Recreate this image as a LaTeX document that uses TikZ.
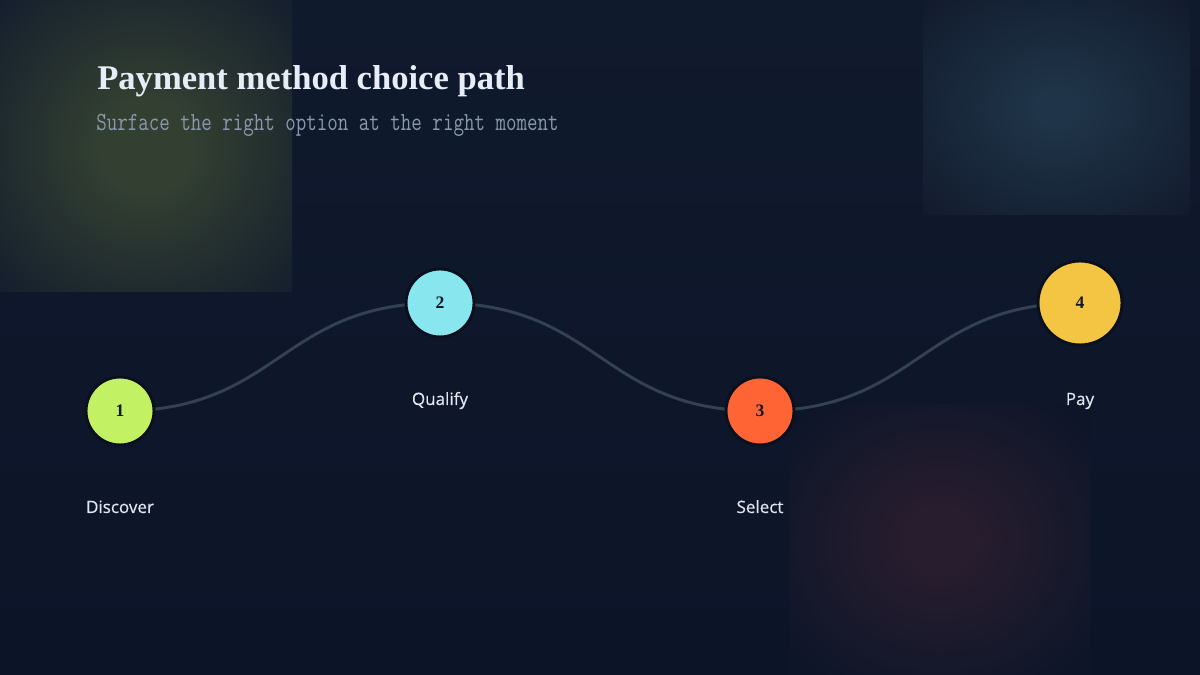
\documentclass[tikz,border=0pt]{standalone}
\usepackage{fontspec}
\usepackage{graphicx}
\setmainfont{Liberation Serif}
\setsansfont{Open Sans}[FakeBold=0.4]
\usetikzlibrary{positioning}

\definecolor{bgtop}{HTML}{101A2D}
\definecolor{bgbot}{HTML}{0C1428}
\definecolor{glowgreen}{HTML}{323F31}
\definecolor{glowblue}{HTML}{1F3448}
\definecolor{glowred}{HTML}{281D2E}
\definecolor{glowedge}{HTML}{121B2D}
\definecolor{glowedgelow}{HTML}{0D1529}
\definecolor{wirecol}{HTML}{334155}
\definecolor{ringcol}{HTML}{0A101E}
\definecolor{titlecol}{HTML}{E6EDF8}
\definecolor{subcol}{HTML}{8A98AD}
\definecolor{labelcol}{HTML}{E2E8F0}
\definecolor{digitcol}{HTML}{111827}
\definecolor{limefill}{HTML}{C2F264}
\definecolor{cyanfill}{HTML}{88E6EE}
\definecolor{orangefill}{HTML}{FF6534}
\definecolor{goldfill}{HTML}{F4C542}

\pgfdeclareradialshading{greenglow}{\pgfpoint{0bp}{0bp}}{color(0bp)=(glowgreen); color(8bp)=(glowgreen); color(38bp)=(glowedge); color(50bp)=(glowedge)}
\pgfdeclareradialshading{blueglow}{\pgfpoint{0bp}{0bp}}{color(0bp)=(glowblue); color(4bp)=(glowblue); color(35bp)=(glowedge); color(50bp)=(glowedge)}
\pgfdeclareradialshading{redglow}{\pgfpoint{0bp}{0bp}}{color(0bp)=(glowred); color(5bp)=(glowred); color(33bp)=(glowedgelow); color(50bp)=(glowedgelow)}

\pgfdeclarelayer{bg}
\pgfdeclarelayer{wire}
\pgfsetlayers{bg,wire,main}

\tikzset{
  stepdot/.style={circle,draw=ringcol,line width=2.1pt,minimum size=1.7cm,inner sep=0pt,
    text=digitcol,font=\rmfamily\bfseries\fontsize{12.5}{14}\selectfont},
  steplabel/.style={anchor=base,text=labelcol,font=\sffamily\fontsize{12.1}{14}\selectfont},
  wire/.style={draw=wirecol,line width=2.1pt,line cap=round}
}

\begin{document}
\begin{tikzpicture}[x=0.025cm,y=0.025cm]
  % backdrop and glows
  \begin{pgfonlayer}{bg}
    \shade[top color=bgtop,bottom color=bgbot] (0,0) rectangle (1200,675);
    \shade[shading=greenglow] (0,383) rectangle (292,675);
    \shade[shading=blueglow] (923,460) rectangle (1190,675);
    \shade[shading=redglow] (790,0) rectangle (1090,270);
  \end{pgfonlayer}

  \node[anchor=base west,text=titlecol,font=\bfseries\fontsize{24.6}{28}\selectfont,inner sep=0pt]
    (title) at (97,585) {Payment method choice path};
  \node[anchor=base west,text=subcol,inner sep=0pt]
    (subtitle) at (96,544) {\scalebox{0.78}[1]{\ttfamily\fontsize{18.6}{20}\selectfont Surface the right option at the right moment}};

  % steps
  \node[stepdot,fill=limefill] (s1) at (120,264) {1};
  \node[stepdot,fill=cyanfill] (s2) at (440,372) {2};
  \node[stepdot,fill=orangefill] (s3) at (760,264) {3};
  \node[stepdot,fill=goldfill,minimum size=2.1cm] (s4) at (1080,372) {4};

  \node[steplabel] (l1) at (120,162) {Discover};
  \node[steplabel] (l2) at (440,270) {Qualify};
  \node[steplabel] (l3) at (760,162) {Select};
  \node[steplabel] (l4) at (1080,270) {Pay};

  \begin{pgfonlayer}{wire}
    \path[wire] (s1.center) .. controls +(160,0) and +(-160,0) .. (s2.center)
      .. controls +(160,0) and +(-160,0) .. (s3.center)
      .. controls +(160,0) and +(-160,0) .. (s4.center);
  \end{pgfonlayer}
\end{tikzpicture}
\end{document}
